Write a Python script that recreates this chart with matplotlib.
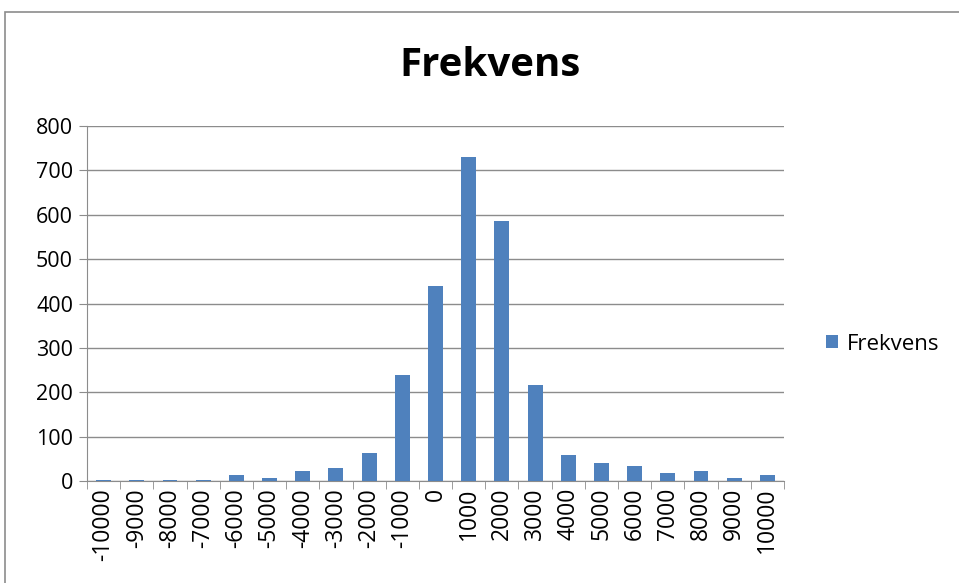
import matplotlib
matplotlib.use("Agg")
import matplotlib.pyplot as plt
from matplotlib.patches import Rectangle
import numpy as np

categories = ["-10000", "-9000", "-8000", "-7000", "-6000", "-5000", "-4000", "-3000",
              "-2000", "-1000", "0", "1000", "2000", "3000", "4000", "5000", "6000",
              "7000", "8000", "9000", "10000"]
values = [3, 3, 3, 3, 13, 7, 22, 30, 62, 240, 440, 730, 585, 216, 59, 41, 33, 19, 22, 7, 13]
yticks = [0, 100, 200, 300, 400, 500, 600, 700, 800]

plt.rcParams['font.family'] = ['Open Sans', 'DejaVu Sans']

fig = plt.figure(figsize=(9.59, 5.83), dpi=100)
W, H = 959, 583
ax = fig.add_axes([87 / W, 1 - 481 / H, (784 - 87) / W, (481 - 126) / H])

# chart frame
fig.patches.append(Rectangle((5 / W, -0.1), 1.2, (H - 12) / H + 0.1, transform=fig.transFigure,
                             fill=False, edgecolor="#8c8c8c", linewidth=1.2))

x = np.arange(len(categories))
ax.bar(x, values, width=0.45, color="#4f81bd", label="Frekvens", zorder=3)

grid_c = "#8c8c8c"
ax.set_ylim(0, 800)
ax.set_xlim(-0.5, len(categories) - 0.5)
ax.set_yticks(yticks)
ax.yaxis.grid(True, color=grid_c, linewidth=1, zorder=0)
ax.set_xticks(x)
ax.set_xticklabels(categories, rotation=90, fontsize=16.5)
ax.set_xticks(np.arange(-0.5, len(categories), 1), minor=True)
ax.tick_params(axis='x', which='major', length=0, pad=5)
ax.tick_params(axis='x', which='minor', length=6, color=grid_c, direction='out')
ax.tick_params(axis='y', length=6, color=grid_c, direction='out', labelsize=15.5, pad=4)
for s in ["top", "right"]:
    ax.spines[s].set_visible(False)
for s in ["left", "bottom"]:
    ax.spines[s].set_color(grid_c)

fig.text(490 / W, 1 - 65 / H, "Frekvens", ha="center", va="center", fontsize=29, fontweight="bold")

ax.legend(loc="center left", bbox_to_anchor=(826 / W, 1 - 344 / H), bbox_transform=fig.transFigure,
          frameon=False, fontsize=16, handlelength=0.55, handleheight=0.55, handletextpad=0.4,
          borderpad=0, borderaxespad=0)

fig.savefig("out.png", dpi=100)
